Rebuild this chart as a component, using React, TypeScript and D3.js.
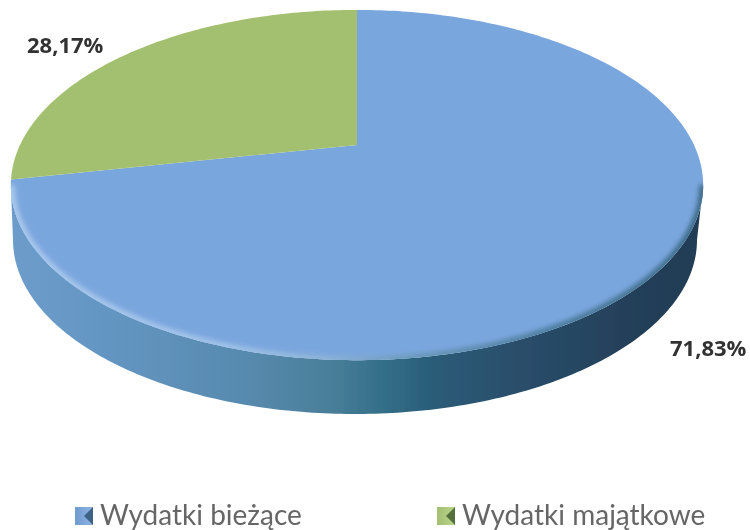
import React from "react";
import * as d3 from "d3";

const categories = ["Wydatki bieżące", "Wydatki majątkowe"];
const shares = [71.83, 28.17];
const shareLabels = ["71,83%", "28,17%"];
const topColors = ["#7aa6de", "#a3c06f"];

const width = 750;
const height = 530;
const cx = 357;
const vertexY = 145;
const radiusX = 337;
const radiusY = 166;
const tilt = -0.2286;

// perspective tilted disc: angle is clockwise from 12 o'clock
const project = (angle: number): [number, number] => {
  const u = Math.sin(angle);
  const v = -Math.cos(angle);
  const w = 1 + tilt * v;
  return [cx + (radiusX * u) / w, vertexY + (radiusY * v) / w];
};

// bottom outline of the side wall
const projectBase = (angle: number): [number, number] => [
  355 + 342 * Math.sin(angle),
  240 - 174 * Math.cos(angle),
];

const line = d3.line<[number, number]>();
const sampleAngles = (a0: number, a1: number) => {
  const n = Math.max(2, Math.ceil(Math.abs(a1 - a0) * 60));
  return d3.range(n + 1).map((i) => a0 + ((a1 - a0) * i) / n);
};

const pieGen = d3.pie<number>().sort(null).value((d) => d);
const slices = pieGen(shares);

const rimStart = (103.2 * Math.PI) / 180;
const rimEnd = (256.8 * Math.PI) / 180;

const sidePoints: [number, number][] = [
  ...sampleAngles(rimStart, rimEnd).map((a) => project(a)),
  ...sampleAngles(Math.PI * 1.5, Math.PI * 0.5).map((a) => projectBase(a)),
];
const rimPoints = sampleAngles(rimStart, rimEnd).map((a) => project(a));

const slicePath = (s: d3.PieArcDatum<number>) => {
  const pts: [number, number][] = [
    [cx, vertexY],
    ...sampleAngles(s.startAngle, s.endAngle).map((a) => project(a)),
  ];
  return line(pts) + "Z";
};

const sideStops: [string, string][] = [
  ["0%", "#6d9ccb"],
  ["13%", "#6496c3"],
  ["34%", "#578aae"],
  ["46%", "#4a7f9a"],
  ["54%", "#336e88"],
  ["61%", "#2a5c78"],
  ["72%", "#2a4f6c"],
  ["90%", "#243f59"],
  ["100%", "#233c55"],
];

const rimStops: [string, string][] = [
  ["0%", "#abc9ec"],
  ["30%", "#a3c4ea"],
  ["45%", "#8fb4d8"],
  ["56%", "#6f9dbe"],
  ["75%", "#4f7f9f"],
  ["100%", "#3c6a86"],
];

const legendX = [75, 437];
const labelFont = "'Open Sans', sans-serif";

export default function App() {
  return (
    <svg
      width={width}
      height={height}
      style={{ position: "absolute", left: 0, top: 0, background: "#fff" }}
    >
      <defs>
        <linearGradient id="side" x1="0" x2="1" y1="0" y2="0">
          {sideStops.map(([o, c]) => (
            <stop key={o} offset={o} stopColor={c} />
          ))}
        </linearGradient>
        <linearGradient id="rim" x1="0" x2="1" y1="0" y2="0">
          {rimStops.map(([o, c]) => (
            <stop key={o} offset={o} stopColor={c} />
          ))}
        </linearGradient>
        <linearGradient id="markerBlue" x1="0" x2="1" y1="0" y2="0">
          <stop offset="0%" stopColor="#6f9bd0" />
          <stop offset="100%" stopColor="#8fb4e4" />
        </linearGradient>
        <linearGradient id="markerGreen" x1="0" x2="1" y1="0" y2="0">
          <stop offset="0%" stopColor="#a3bf70" />
          <stop offset="100%" stopColor="#bcd48e" />
        </linearGradient>
        <filter id="soft" x="-5%" y="-5%" width="110%" height="110%">
          <feGaussianBlur stdDeviation="2.6" />
        </filter>
        <filter id="scan">
          <feGaussianBlur stdDeviation="0.5" />
        </filter>
        <clipPath id="topClip">
          <path d={line(sampleAngles(0, Math.PI * 2).map((a) => project(a))) + "Z"} />
        </clipPath>
      </defs>

      <path d={line(sidePoints) + "Z"} fill="url(#side)" filter="url(#scan)" />

      <g filter="url(#scan)">
        {slices.map((s, i) => (
          <path key={categories[i]} d={slicePath(s)} fill={topColors[i]} />
        ))}
      </g>

      <g clipPath="url(#topClip)">
        <path
          d={line(rimPoints) ?? ""}
          fill="none"
          stroke="url(#rim)"
          strokeWidth={8}
          filter="url(#soft)"
        />
      </g>

      <g fontFamily={labelFont} fontWeight={700} fontSize={22} fill="#333" filter="url(#scan)">
        <text x={27} y={53}>{shareLabels[1]}</text>
        <text x={670} y={356}>{shareLabels[0]}</text>
      </g>

      <g filter="url(#scan)">
        {categories.map((c, i) => {
          const x = legendX[i];
          const y = 507;
          const s = 18;
          const fill = i === 0 ? "url(#markerBlue)" : "url(#markerGreen)";
          const dark = i === 0 ? "#3c6286" : "#56703a";
          return (
            <g key={c}>
              <rect x={x} y={y} width={s} height={s} fill={fill} />
              <path
                d={line([[x + s, y], [x + s * 0.5, y + s / 2], [x + s, y + s]]) + "Z"}
                fill={dark}
              />
              <text
                x={x + 25}
                y={525}
                fontFamily="Lato, sans-serif"
                fontSize={28}
                fill="#666"
              >
                {c}
              </text>
            </g>
          );
        })}
      </g>
    </svg>
  );
}
